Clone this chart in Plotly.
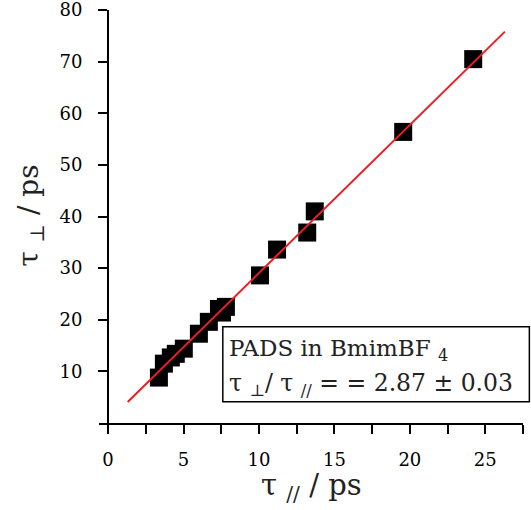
import plotly.graph_objects as go

# Data
tau_par = [3.37, 3.70, 4.16, 4.49, 5.02, 6.02, 6.68, 7.35, 7.55, 7.81,
           10.07, 11.2, 13.2, 13.7, 19.56, 24.2]
tau_perp = [8.8, 11.5, 12.7, 13.4, 14.4, 17.3, 19.6, 22.1, 21.4, 22.5,
            28.6, 33.6, 36.9, 41.0, 56.4, 70.5]

fit_slope = 2.87
fit_intercept = 0.35
fit_x = [1.3, 26.3]
fit_y = [fit_slope * v + fit_intercept for v in fit_x]

x_ticks = [0, 5, 10, 15, 20, 25]
x_minor = [2.5, 7.5, 12.5, 17.5, 22.5, 27.5]
y_ticks = [10, 20, 30, 40, 50, 60, 70, 80]

FONT = "DejaVu Serif"

fig = go.Figure()
fig.add_trace(go.Scatter(
    x=tau_par, y=tau_perp, mode="markers",
    marker=dict(symbol="square", size=18, color="black",
                line=dict(width=0)),
    showlegend=False, cliponaxis=False))
fig.add_trace(go.Scatter(
    x=fit_x, y=fit_y, mode="lines",
    line=dict(color="rgb(235,30,35)", width=2),
    showlegend=False, cliponaxis=False))

x_lo, x_hi = -0.6, 27.5
fig.update_layout(
    width=531, height=510,
    margin=dict(l=99, r=8, t=10, b=87, autoexpand=False),
    paper_bgcolor="white", plot_bgcolor="white",
    font=dict(family=FONT, color="black"),
    xaxis=dict(range=[x_lo, x_hi], showgrid=False, zeroline=False,
               automargin=False, ticklabeloverflow="allow",
               showline=True, linecolor="black", linewidth=2,
               ticks="outside", ticklen=9, tickwidth=2, tickcolor="black",
               tickvals=x_ticks, ticktext=[str(v) for v in x_ticks],
               tickfont=dict(family=FONT, size=18, color="black"),
               ticklabelstandoff=10,
               minor=dict(tickvals=x_minor, ticks="outside", ticklen=9,
                          tickwidth=2, tickcolor="black")),
    yaxis=dict(range=[0, 80.02], showgrid=False, zeroline=False,
               automargin=False, ticklabeloverflow="allow",
               anchor="free", position=(0 - x_lo) / (x_hi - x_lo),
               showline=True, linecolor="black", linewidth=2,
               ticks="outside", ticklen=9, tickwidth=2, tickcolor="black",
               tickvals=y_ticks, ticktext=[str(v) for v in y_ticks],
               tickfont=dict(family=FONT, size=18, color="black"),
               ticklabelstandoff=12),
)

# Text box
fig.add_shape(type="rect", xref="paper", yref="paper",
              x0=0.292, x1=1.015, y0=0.0515, y1=0.233,
              line=dict(color="black", width=1.5), fillcolor="white",
              layer="above")
fig.add_annotation(xref="paper", yref="paper", x=0.302, y=0.177,
                   xanchor="left", yanchor="middle", showarrow=False,
                   text="PADS in BmimBF <sub>4</sub>",
                   font=dict(family=FONT, size=23, color="#222"))
fig.add_annotation(xref="paper", yref="paper", x=0.302, y=0.093,
                   xanchor="left", yanchor="middle", showarrow=False,
                   text="τ <sub>⊥</sub>/ τ <sub>//</sub> = = 2.87 ± 0.03",
                   font=dict(family=FONT, size=23.5, color="#222"))

# Axis titles
fig.add_annotation(xref="paper", yref="paper", x=0.502, y=-0.155,
                   xanchor="center", yanchor="middle", showarrow=False,
                   text="τ <sub>//</sub> / ps",
                   font=dict(family=FONT, size=29, color="#222"))
fig.add_annotation(xref="paper", yref="paper", x=-0.16, y=0.502,
                   xanchor="center", yanchor="middle", showarrow=False,
                   textangle=-90,
                   text="τ <sub>⊥</sub> / ps",
                   font=dict(family=FONT, size=28, color="#222"))

fig.write_html("out.html", config={"displayModeBar": False},
               post_script="document.body.style.margin='0px';")
